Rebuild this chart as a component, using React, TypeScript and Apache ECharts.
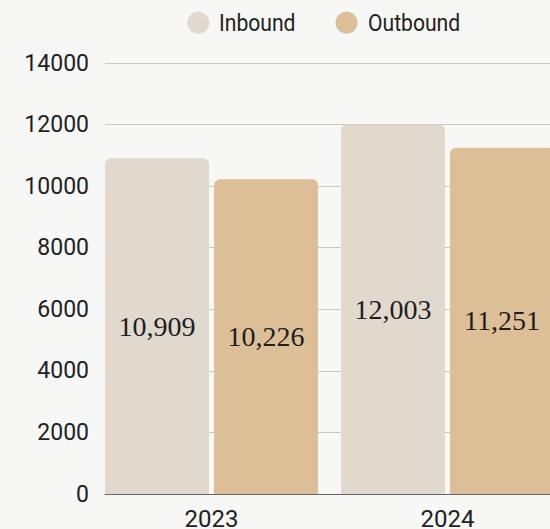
import React, { useEffect, useRef } from "react";
import * as echarts from "echarts";

const categories = ["2023", "2024"];
const inbound = [10909, 12003];
const outbound = [10226, 11251];
const seriesNames = ["Inbound", "Outbound"];
const yTicks = { min: 0, max: 14000, interval: 2000 };

const BG = "#f7f7f5";
const C_IN = "#e1d8ce";
const C_OUT = "#ddbf97";

export default function App() {
  const ref = useRef<HTMLDivElement>(null);
  useEffect(() => {
    if (!ref.current) return;
    const chart = echarts.init(ref.current, null, { renderer: "svg" });
    const labelStyle = {
      show: true,
      position: "inside",
      fontFamily: "'Liberation Serif', serif",
      fontSize: 28,
      color: "#1e1e1e",
      formatter: (p: any) => Number(p.value).toLocaleString("en-US"),
    };
    const legendFont = "24px Roboto, sans-serif";
    const legendItem = (cx: number, tx: number, name: string, color: string) => [
      { type: "circle", shape: { cx, cy: 22.7, r: 11 }, style: { fill: color } },
      {
        type: "text",
        x: tx,
        y: 23,
        scaleX: 0.88,
        style: { text: name, font: legendFont, fill: "#222", align: "left", verticalAlign: "middle" },
      },
    ];
    chart.setOption({
      animation: false,
      backgroundColor: BG,
      graphic: [
        ...legendItem(198.3, 219, seriesNames[0], C_IN),
        ...legendItem(346.5, 368, seriesNames[1], C_OUT),
      ],
      grid: [
        { left: 105, width: 460, top: 63, bottom: 35, outerBoundsMode: "none", containLabel: false },
        { left: 93.5, width: 472, top: 63, bottom: 35, outerBoundsMode: "none", containLabel: false },
      ],
      xAxis: [
        {
          gridIndex: 0,
          type: "category",
          data: categories,
          axisLine: { show: true, lineStyle: { color: "#666", width: 1 } },
          axisTick: { show: false },
          axisLabel: { show: false },
          splitLine: { show: false },
        },
        {
          gridIndex: 1,
          type: "category",
          data: categories,
          axisLine: { show: false },
          axisTick: { show: false },
          axisLabel: {
            fontSize: 24,
            fontFamily: "Roboto, sans-serif",
            color: "#222",
            margin: 13,
          },
        },
      ],
      yAxis: [
        {
          gridIndex: 0,
          type: "value",
          min: yTicks.min,
          max: yTicks.max,
          interval: yTicks.interval,
          axisLine: { show: false },
          axisTick: { show: false },
          axisLabel: {
            fontSize: 23,
            fontFamily: "Roboto, sans-serif",
            color: "#222",
            margin: 16,
            formatter: (v: number) => String(v),
          },
          splitLine: { lineStyle: { color: "#c8c8c8", width: 1 } },
        },
        {
          gridIndex: 1,
          type: "value",
          min: yTicks.min,
          max: yTicks.max,
          interval: yTicks.interval,
          show: false,
          splitLine: { show: false },
        },
      ],
      series: [
        {
          name: seriesNames[0],
          type: "bar",
          xAxisIndex: 1,
          yAxisIndex: 1,
          data: inbound,
          barWidth: 104,
          barGap: "4.8%",
          itemStyle: { color: C_IN, borderRadius: [6, 6, 0, 0] },
          label: labelStyle,
        },
        {
          name: seriesNames[1],
          type: "bar",
          xAxisIndex: 1,
          yAxisIndex: 1,
          data: outbound,
          barWidth: 104,
          barGap: "4.8%",
          itemStyle: { color: C_OUT, borderRadius: [6, 6, 0, 0] },
          label: labelStyle,
        },
      ],
    });
    return () => chart.dispose();
  }, []);
  return (
    <div
      ref={ref}
      style={{ position: "fixed", left: 0, top: 0, width: 550, height: 529, background: BG }}
    />
  );
}
